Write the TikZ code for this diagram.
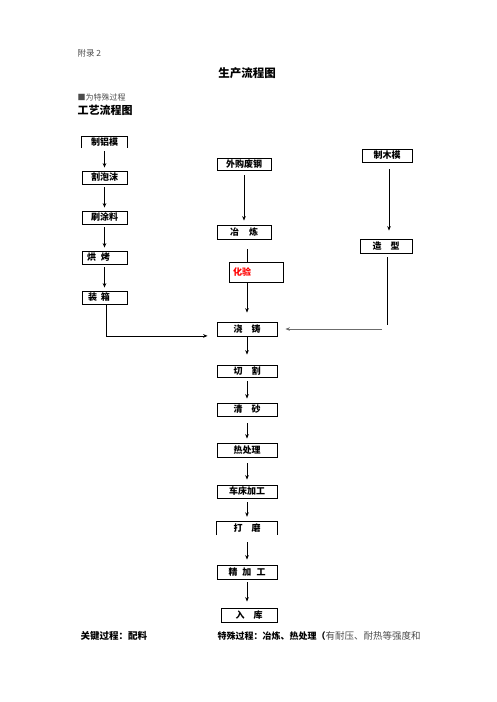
\documentclass[tikz,border=0pt]{standalone}
\usepackage{fontspec}
\setmainfont{Noto Sans CJK SC}
\usetikzlibrary{arrows.meta,calc}
\definecolor{txtgray}{gray}{0.3}
\tikzset{
  box/.style={draw, line width=0.8pt, inner sep=0pt, font=\fontsize{9}{10}\selectfont\bfseries},
  openbox/.style={inner sep=0pt, font=\fontsize{9}{10}\selectfont\bfseries},
  arr/.style={line width=0.7pt, -{Stealth[length=4.5pt,width=3.6pt]}},
  ln/.style={line width=0.7pt},
}
\begin{document}
\begin{tikzpicture}[x=1pt,y=-1pt]
\useasboundingbox (0,0) rectangle (496,702);
% headings
\node[anchor=west, text=txtgray, font=\fontsize{8.5}{10}\selectfont] (fl) at (74,53) {附录 2};
\node[font=\fontsize{11.5}{13}\selectfont\bfseries] (title) at (247,73) {生产流程图};
\node[anchor=west, text=txtgray, font=\fontsize{8}{9}\selectfont] (note) at (74,97) {■为特殊过程};
\node[anchor=west, font=\fontsize{11}{13}\selectfont\bfseries] (gy) at (74,110) {工艺流程图};
% left column
\node[openbox, minimum width=45pt, minimum height=11pt] (zlm) at (104.5,142.5) {制铝模};
\draw[line width=0.8pt] (zlm.south west) |- (zlm.north east) -- (zlm.south east);
\node[box, minimum width=45pt, minimum height=13pt] (gpm) at (104.5,177.5) {割泡沫};
\node[box, minimum width=45pt, minimum height=13pt] (stl) at (104.5,217.5) {刷涂料};
\node[box, minimum width=45pt, minimum height=13pt, text width=35pt, align=left] (hk) at (104.5,257.5) {烘\hspace{5pt}烤};
\node[box, minimum width=45pt, minimum height=13pt, text width=33pt, align=left] (zx) at (104.5,297.5) {装\hspace{4pt}箱};
% middle column
\node[box, minimum width=54pt, minimum height=12pt] (wgfg) at (244,164) {外购废钢};
\node[box, minimum width=54pt, minimum height=14pt] (yl) at (244,232) {冶\hspace{10pt}炼};
\node[box, minimum width=54pt, minimum height=20pt, text=red, text width=46pt, align=left] (hy) at (256,272) {化验};
\node[box, minimum width=60pt, minimum height=14pt] (jz) at (247,329) {浇\quad 铸};
\node[box, minimum width=60pt, minimum height=12pt] (qg) at (247,371) {切\quad 割};
\node[box, minimum width=60pt, minimum height=13pt] (qs) at (247,409.5) {清\quad 砂};
\node[box, minimum width=60pt, minimum height=14pt] (rcl) at (247,450) {热处理};
\node[box, minimum width=60pt, minimum height=13pt] (ccjg) at (247,491.5) {车床加工};
\node[openbox, minimum width=60pt, minimum height=13pt] (dm) at (247,528.5) {打\quad 磨};
\draw[line width=0.8pt] (dm.south west) |- (dm.north east) -- (dm.south east);
\node[box, minimum width=60pt, minimum height=14pt] (jjg) at (247,572) {精\hspace{5pt}加\hspace{5pt}工};
\node[box, minimum width=56pt, minimum height=14pt] (rk) at (249,615) {入\quad 库};
% right column
\node[box, minimum width=50pt, minimum height=13pt] (zmm) at (387,155.5) {制木模};
\node[box, minimum width=52pt, minimum height=14pt] (zxing) at (386,246) {造\quad 型};
% left arrows
\draw[arr, shorten <=3pt, shorten >=3pt] (zlm.south) -- (gpm.north);
\draw[arr, shorten <=3pt, shorten >=3pt] (gpm.south) -- (stl.north);
\draw[arr, shorten <=3pt, shorten >=3pt] (stl.south) -- (hk.north);
\draw[arr, shorten <=3pt, shorten >=3pt] (hk.south) -- (zx.north);
\coordinate (lc) at ($(zx.south)+(1.5,31.5)$);
\draw[ln] ($(zx.south)+(1.5,0)$) -- (lc);
\draw[arr, shorten >=9pt] (lc) -- (lc -| jz.west);
% middle arrows
\draw[arr, shorten <=5pt, shorten >=4pt] (wgfg.south) -- (wgfg.south |- yl.north);
\coordinate (ma) at ($(yl.south)+(3,10)$);
\draw[ln] (ma) -- (ma |- hy.north);
\draw[arr, shorten >=9pt] (ma |- hy.south) -- (jz.north);
\draw[arr, shorten >=10pt] (jz.south) -- (qg.north);
\draw[arr, shorten <=4pt, shorten >=4pt] (qg.south) -- (qs.north);
\draw[arr, shorten <=7pt, shorten >=4pt] (qs.south) -- (rcl.north);
\draw[arr, shorten <=6pt, shorten >=5pt] (rcl.south) -- (ccjg.north);
\draw[arr, shorten <=4pt, shorten >=5pt] (ccjg.south) -- (dm.north);
\draw[arr, shorten <=7pt, shorten >=5pt] (dm.south) -- (jjg.north);
\draw[arr, shorten <=3pt, shorten >=6pt] (jjg.south) -- (jjg.south |- rk.north);
% right arrows
\draw[arr, shorten <=7pt, shorten >=8pt] ($(zmm.south)+(2,0)$) -- ($(zmm.south |- zxing.north)+(2,0)$);
\coordinate (rt) at ($(zxing.south)+(1,4)$);
\coordinate (rb) at ($(zxing.south)+(1,72)$);
\draw[ln] (rt) -- (rb);
\coordinate (rh) at (382,329);
\draw[arr, draw=gray!85!black, line width=1pt, shorten >=8pt] (rh) -- (rh -| jz.east);
% bottom text
\node[anchor=west, font=\fontsize{9.5}{11}\selectfont\bfseries] (kg) at (77,636) {关键过程：配料};
\node[anchor=west, font=\fontsize{9}{11}\selectfont] (ts) at (214,636) {\textbf{特殊过程：冶炼、热处理（}\textcolor{txtgray}{\fontsize{9.5}{11}\selectfont 有耐压、耐热等强度和}};
\end{tikzpicture}
\end{document}
